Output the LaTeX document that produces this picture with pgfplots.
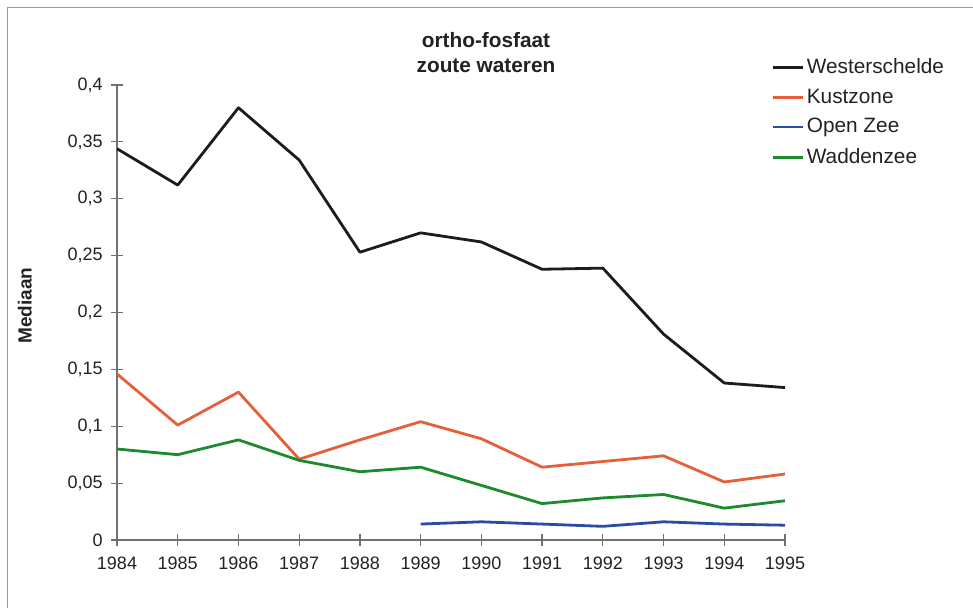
\documentclass[border=0pt]{standalone}
\usepackage{fontspec}
\setmainfont{Liberation Sans}
\usepackage{pgfplots}
\pgfplotsset{compat=1.18}

\definecolor{cWest}{HTML}{1C1C1C}
\definecolor{cKust}{HTML}{E5603A}
\definecolor{cOpen}{HTML}{2B4DA0}
\definecolor{cWad}{HTML}{1E8A2E}
\definecolor{txt}{HTML}{222222}
\definecolor{axc}{HTML}{707070}

\begin{document}
\begin{tikzpicture}
\fontsize{9}{11}\selectfont
% page frame (1px = 0.5pt), origin at bottom left
\path[use as bounding box] (0pt,0pt) rectangle (486.5pt,304pt);
\draw[axc!70,line width=0.5pt] (3.5pt,0pt) -- (3.5pt,300pt) -- (486.5pt,300pt);

\begin{axis}[
    at={(58.5pt,34pt)}, anchor=south west,
    scale only axis,
    width=334pt, height=227.5pt,
    xmin=1984, xmax=1995,
    ymin=0, ymax=0.4,
    axis x line=bottom, axis y line=left,
    axis line style={axc, line width=0.6pt, -},
    xtick={1984,1985,1986,1987,1988,1989,1990,1991,1992,1993,1994,1995},
    xticklabels={1984,1985,1986,1987,1988,1989,1990,1991,1992,1993,1994,1995},
    ytick={0,0.05,0.1,0.15,0.2,0.25,0.3,0.35,0.4},
    yticklabels={0,{0,05},{0,1},{0,15},{0,2},{0,25},{0,3},{0,35},{0,4}},
    scaled ticks=false,
    tick align=center,
    major tick length=6pt,
    tick style={axc, line width=0.6pt},
    ticklabel style={font=\fontsize{9}{11}\selectfont, text=txt},
    xticklabel style={yshift=-2.5pt},
    yticklabel style={xshift=-1pt},
    ylabel={\bfseries Mediaan},
    ylabel style={font=\fontsize{9.5}{11}\selectfont, text=txt, at={(axis description cs:-0.138,0.515)}, anchor=center},
    legend style={at={(axis description cs:0.980,1.0636)}, anchor=north west,
        draw=none, fill=none, inner sep=0pt,
        font=\fontsize{10.4}{12}\selectfont, text=txt,
        row sep=4.3pt, nodes={inner sep=1pt}},
    legend cell align=left,
    legend image code/.code={\draw[#1, line width=1.4pt] (0pt,0pt) -- (15pt,0pt);},
    every axis plot/.append style={line width=1.4pt, line join=round},
    clip=false,
]
\addplot[cWest] coordinates {
 (1984,0.344) (1985,0.312) (1986,0.380) (1987,0.334) (1988,0.253) (1989,0.270)
 (1990,0.262) (1991,0.238) (1992,0.239) (1993,0.181) (1994,0.138) (1995,0.134)
};
\addlegendentry{Westerschelde}
\addplot[cKust] coordinates {
 (1984,0.146) (1985,0.101) (1986,0.130) (1987,0.071) (1988,0.088) (1989,0.104)
 (1990,0.089) (1991,0.064) (1992,0.069) (1993,0.074) (1994,0.051) (1995,0.058)
};
\addlegendentry{Kustzone}
\addplot[cOpen] coordinates {
 (1989,0.014) (1990,0.016) (1991,0.014) (1992,0.012) (1993,0.016) (1994,0.014) (1995,0.013)
};
\addlegendentry{Open Zee}
\addplot[cWad] coordinates {
 (1984,0.080) (1985,0.075) (1986,0.088) (1987,0.070) (1988,0.060) (1989,0.064)
 (1990,0.048) (1991,0.032) (1992,0.037) (1993,0.040) (1994,0.028) (1995,0.0345)
};
\addlegendentry{Waddenzee}
\end{axis}

\node[text=txt, font=\fontsize{10.4}{12}\selectfont\bfseries] at (243pt,284pt) {ortho-fosfaat};
\node[text=txt, font=\fontsize{10.4}{12}\selectfont\bfseries] at (243pt,271pt) {zoute wateren};
\end{tikzpicture}
\end{document}
